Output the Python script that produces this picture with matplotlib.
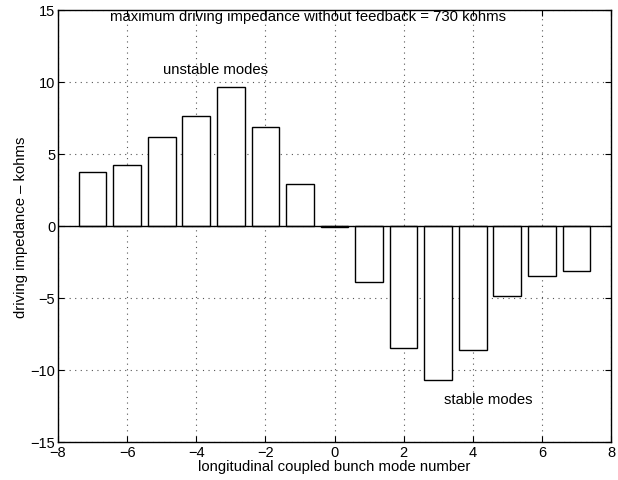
import matplotlib
matplotlib.use('Agg')
import matplotlib.pyplot as plt

modes = [-7, -6, -5, -4, -3, -2, -1, 0, 1, 2, 3, 4, 5, 6, 7]
impedance = [3.77, 4.24, 6.16, 7.66, 9.67, 6.9, 2.92, -0.08,
             -3.91, -8.49, -10.69, -8.59, -4.84, -3.45, -3.1]
xticks = [-8, -6, -4, -2, 0, 2, 4, 6, 8]
yticks = [-15, -10, -5, 0, 5, 10, 15]

plt.rcParams['font.family'] = ['Liberation Sans', 'DejaVu Sans']

fig = plt.figure(figsize=(6.18, 4.81), dpi=100)
# axes box: x 58..611 px, y 11..443 px
ax = fig.add_axes([58 / 618, 1 - 443 / 481, 553 / 618, 432 / 481])

ax.bar(modes, impedance, width=0.8, facecolor='white', edgecolor='black', linewidth=1.0, zorder=3)
ax.axhline(0, color='black', linewidth=1.0, zorder=4)

ax.set_xlim(-8, 8)
ax.set_ylim(-15, 15)
ax.set_xticks(xticks)
ax.set_yticks(yticks)
ax.grid(True, linestyle=(0, (1, 4)), color='#555555', linewidth=0.8, zorder=0)
ax.tick_params(direction='in', top=True, right=True, labelsize=10.5, length=4, pad=2)
for s in ax.spines.values():
    s.set_linewidth(1.0)

ax.text(-6.5, 14.6, 'maximum driving impedance without feedback = 730 kohms', fontsize=10.7, va='center', zorder=5)
ax.text(-4.96, 10.9, 'unstable modes', fontsize=10.7, va='center', zorder=5)
ax.text(3.17, -12.0, 'stable modes', fontsize=10.7, va='center', zorder=5)

ax.set_xlabel('longitudinal coupled bunch mode number', fontsize=10.7, labelpad=0)
ax.set_ylabel('driving impedance \u2013 kohms', fontsize=10.7, labelpad=2)

fig.savefig('out.png', dpi=100)
